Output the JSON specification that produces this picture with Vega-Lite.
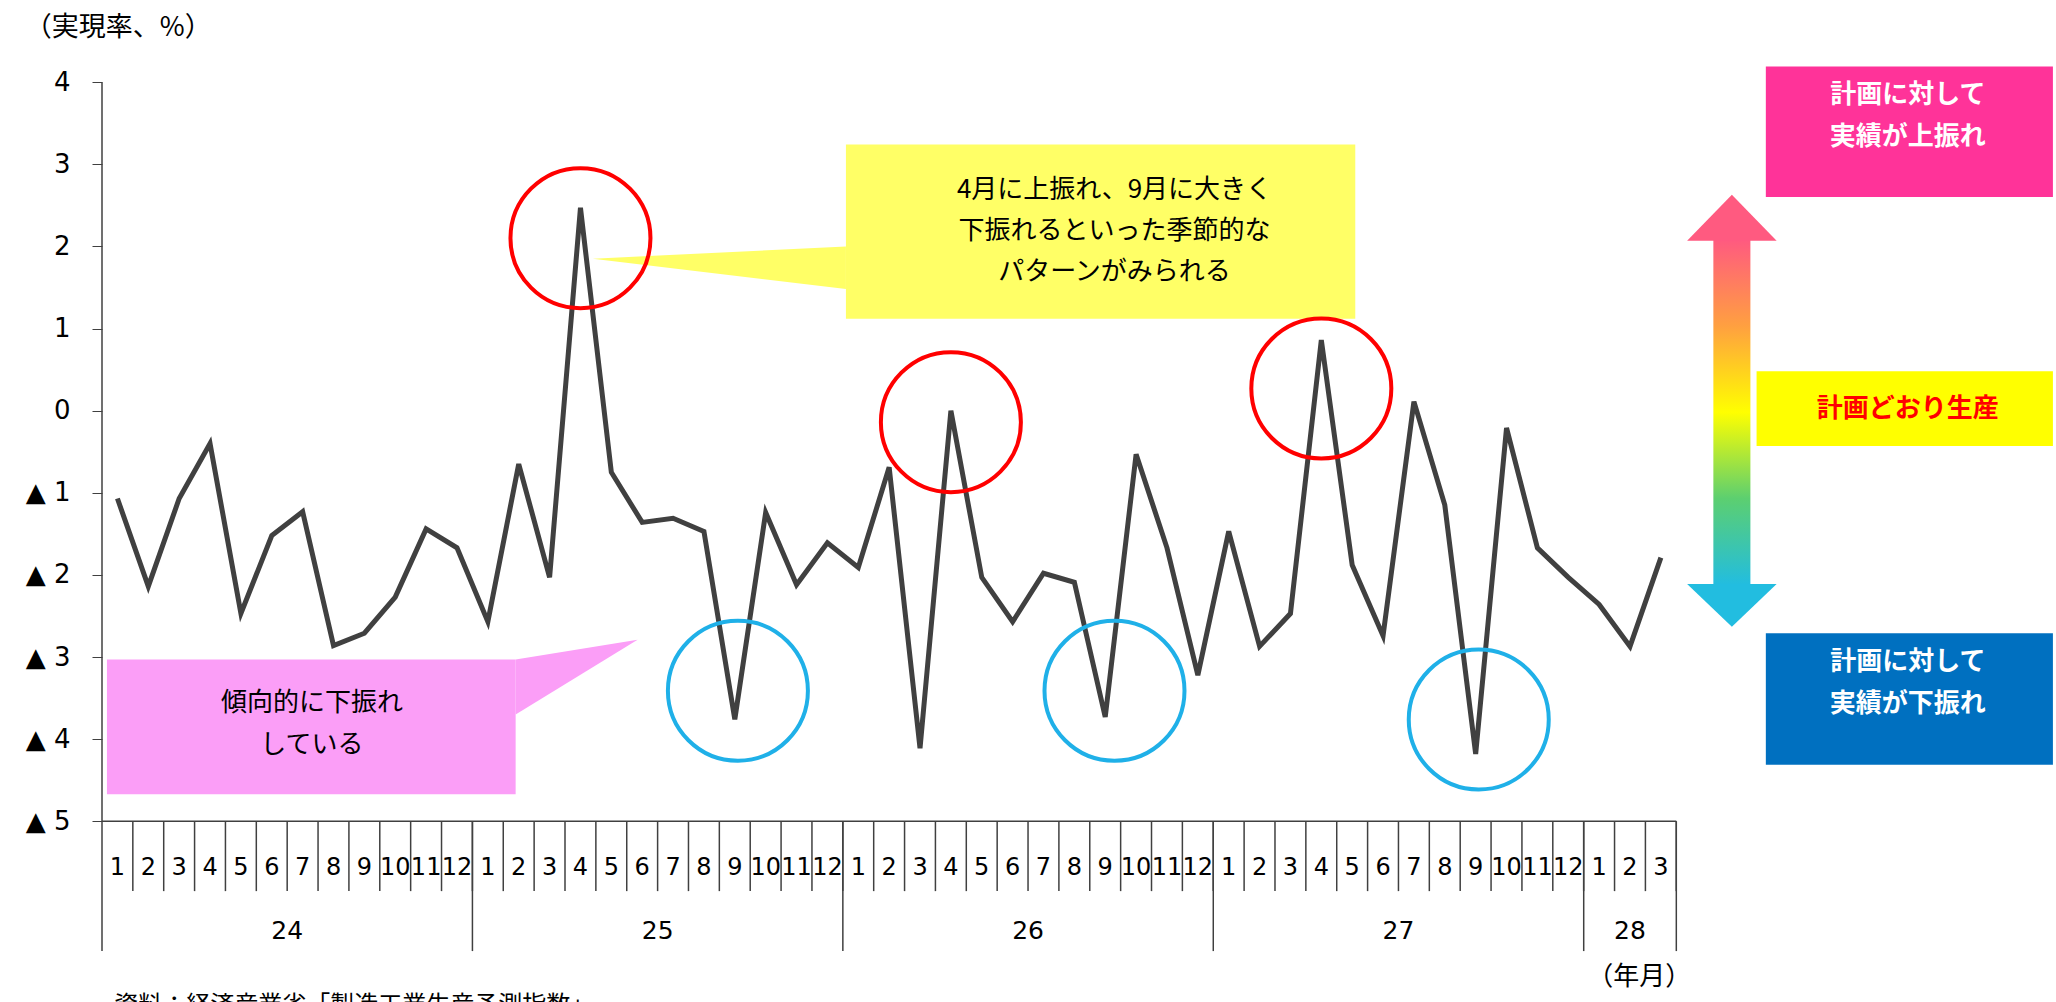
{
"$schema":"https://vega.github.io/schema/vega-lite/v6.json",
"width":1954,"height":1002,"autosize":{"type":"none"},
"padding":{"left":102,"top":0,"right":0,"bottom":0},
"background":"white",
"config":{"view":{"stroke":null},"font":"Noto Sans CJK JP"},
"datasets":{
"s":[
{"i":1,"m":"1","v":-1.07},{"i":2,"m":"2","v":-2.14},{"i":3,"m":"3","v":-1.07},{"i":4,"m":"4","v":-0.4},{"i":5,"m":"5","v":-2.47},{"i":6,"m":"6","v":-1.52},{"i":7,"m":"7","v":-1.23},{"i":8,"m":"8","v":-2.86},{"i":9,"m":"9","v":-2.71},{"i":10,"m":"10","v":-2.27},{"i":11,"m":"11","v":-1.44},{"i":12,"m":"12","v":-1.67},
{"i":13,"m":"1","v":-2.57},{"i":14,"m":"2","v":-0.65},{"i":15,"m":"3","v":-2.03},{"i":16,"m":"4","v":2.47},{"i":17,"m":"5","v":-0.75},{"i":18,"m":"6","v":-1.36},{"i":19,"m":"7","v":-1.31},{"i":20,"m":"8","v":-1.47},{"i":21,"m":"9","v":-3.76},{"i":22,"m":"10","v":-1.24},{"i":23,"m":"11","v":-2.12},{"i":24,"m":"12","v":-1.61},
{"i":25,"m":"1","v":-1.91},{"i":26,"m":"2","v":-0.69},{"i":27,"m":"3","v":-4.11},{"i":28,"m":"4","v":0.0},{"i":29,"m":"5","v":-2.03},{"i":30,"m":"6","v":-2.57},{"i":31,"m":"7","v":-1.98},{"i":32,"m":"8","v":-2.09},{"i":33,"m":"9","v":-3.73},{"i":34,"m":"10","v":-0.53},{"i":35,"m":"11","v":-1.67},{"i":36,"m":"12","v":-3.22},
{"i":37,"m":"1","v":-1.47},{"i":38,"m":"2","v":-2.87},{"i":39,"m":"3","v":-2.47},{"i":40,"m":"4","v":0.86},{"i":41,"m":"5","v":-1.88},{"i":42,"m":"6","v":-2.74},{"i":43,"m":"7","v":0.11},{"i":44,"m":"8","v":-1.15},{"i":45,"m":"9","v":-4.18},{"i":46,"m":"10","v":-0.21},{"i":47,"m":"11","v":-1.67},{"i":48,"m":"12","v":-2.03},
{"i":49,"m":"1","v":-2.36},{"i":50,"m":"2","v":-2.87},{"i":51,"m":"3","v":-1.79}],
"yr":[{"t":"24","c":6.5,"s":0.5},{"t":"25","c":18.5,"s":12.5},{"t":"26","c":30.5,"s":24.5},{"t":"27","c":42.5,"s":36.5},{"t":"28","c":50,"s":48.5},{"t":"","c":0,"s":51.5}],
"circ":[{"x":16,"y":2.1,"c":"r"},{"x":28,"y":-0.14,"c":"r"},{"x":40,"y":0.27,"c":"r"},{"x":21.1,"y":-3.41,"c":"b"},{"x":33.3,"y":-3.41,"c":"b"},{"x":45.1,"y":-3.76,"c":"b"}],
"boxes":[
{"x":24.6,"x2":41.1,"y":3.24,"y2":1.12,"f":"#ffff66"},
{"x":0.66,"x2":13.9,"y":-3.03,"y2":-4.67,"f":"#fb9ef7"},
{"x":54.4,"x2":63.7,"y":4.19,"y2":2.6,"f":"#ff3399"},
{"x":54.1,"x2":63.7,"y":0.48,"y2":-0.43,"f":"#ffff00"},
{"x":54.4,"x2":63.7,"y":-2.71,"y2":-4.31,"f":"#0070c0"}]
},
"layer":[
{"data":{"name":"boxes"},"mark":{"type":"rect"},"encoding":{"x":{"field":"x","type":"quantitative","scale":{"domain":[0.5,63.8],"nice":false,"zero":false},"axis":null},"x2":{"field":"x2"},"y":{"field":"y","type":"quantitative","scale":{"domain":[-7.2,5.0],"nice":false,"zero":false},"axis":{"values":[-5,-4,-3,-2,-1,0,1,2,3,4],"labelExpr":"datum.value<0 ? '▲ '+abs(datum.value) : datum.value","domain":false,"grid":false,"tickSize":10,"tickColor":"#404040","labelFont":"DejaVu Sans","labelFontSize":26,"labelColor":"#000","labelPadding":22,"title":null}},"y2":{"field":"y2"},"color":{"field":"f","type":"nominal","scale":null}}},
{"data":{"values":[{"x":16.4,"y":1.85,"y2":1.85},{"x":24.6,"y":2.0,"y2":1.48}]},"mark":{"type":"area","color":"#ffff66"},"encoding":{"x":{"field":"x","type":"quantitative"},"y":{"field":"y","type":"quantitative"},"y2":{"field":"y2"}}},
{"data":{"values":[{"x":13.9,"y":-3.03,"y2":-3.7},{"x":17.85,"y":-2.79,"y2":-2.79}]},"mark":{"type":"area","color":"#fb9ef7"},"encoding":{"x":{"field":"x","type":"quantitative"},"y":{"field":"y","type":"quantitative"},"y2":{"field":"y2"}}},
{"data":{"values":[{}]},"mark":{"type":"rect","color":{"gradient":"linear","x1":0,"y1":0,"x2":0,"y2":1,"stops":[{"offset":0,"color":"#ff5a80"},{"offset":0.25,"color":"#ffa040"},{"offset":0.5,"color":"#ffff00"},{"offset":0.75,"color":"#5ccf70"},{"offset":1,"color":"#22bde0"}]}},"encoding":{"x":{"datum":52.7},"x2":{"datum":53.9},"y":{"datum":2.08},"y2":{"datum":-2.12}}},
{"data":{"values":[{"x":51.85,"y":2.07,"y2":2.07},{"x":53.3,"y":2.63,"y2":2.07},{"x":54.75,"y":2.07,"y2":2.07}]},"mark":{"type":"area","color":"#ff5a80"},"encoding":{"x":{"field":"x","type":"quantitative"},"y":{"field":"y","type":"quantitative"},"y2":{"field":"y2"}}},
{"data":{"values":[{"x":51.85,"y":-2.11,"y2":-2.11},{"x":53.3,"y":-2.11,"y2":-2.63},{"x":54.75,"y":-2.11,"y2":-2.11}]},"mark":{"type":"area","color":"#22bde0"},"encoding":{"x":{"field":"x","type":"quantitative"},"y":{"field":"y","type":"quantitative"},"y2":{"field":"y2"}}},
{"data":{"values":[{}]},"mark":{"type":"rule","color":"#404040","strokeWidth":1.5},"encoding":{"x":{"datum":0.5},"y":{"datum":-5},"y2":{"datum":4}}},
{"data":{"values":[{}]},"mark":{"type":"rule","color":"#404040","strokeWidth":1.5},"encoding":{"x":{"datum":0.5},"x2":{"datum":51.5},"y":{"datum":-5}}},
{"data":{"name":"s"},"mark":{"type":"rule","color":"#404040","strokeWidth":1.5,"xOffset":15.4},"encoding":{"x":{"field":"i","type":"quantitative"},"y":{"datum":-5},"y2":{"datum":-5.85}}},
{"data":{"name":"yr"},"mark":{"type":"rule","color":"#404040","strokeWidth":1.5},"encoding":{"x":{"field":"s","type":"quantitative"},"y":{"datum":-5},"y2":{"datum":-6.58}}},
{"data":{"name":"s"},"mark":{"type":"text","font":"DejaVu Sans","fontSize":24,"color":"#000"},"encoding":{"x":{"field":"i","type":"quantitative"},"y":{"datum":-5.57},"text":{"field":"m"}}},
{"data":{"name":"yr"},"mark":{"type":"text","font":"DejaVu Sans","fontSize":25,"color":"#000"},"encoding":{"x":{"field":"c","type":"quantitative"},"y":{"datum":-6.34},"text":{"field":"t"}}},
{"data":{"name":"s"},"mark":{"type":"line","color":"#404040","strokeWidth":5},"encoding":{"x":{"field":"i","type":"quantitative"},"y":{"field":"v","type":"quantitative"}}},
{"data":{"name":"circ"},"mark":{"type":"point","filled":false,"size":19600,"strokeWidth":4,"opacity":1},"encoding":{"x":{"field":"x","type":"quantitative"},"y":{"field":"y","type":"quantitative"},"color":{"field":"c","type":"nominal","scale":{"domain":["r","b"],"range":["#ff0000","#1fb0e8"]},"legend":null}}},
{"data":{"values":[{"t":"4月に上振れ、9月に大きく\n下振れるといった季節的な\nパターンがみられる"}]},"mark":{"type":"text","fontSize":26,"lineBreak":"\n","lineHeight":41,"baseline":"top","color":"#000"},"encoding":{"x":{"datum":33.3},"y":{"datum":2.84},"text":{"field":"t"}}},
{"data":{"values":[{"t":"傾向的に下振れ\nしている"}]},"mark":{"type":"text","fontSize":26,"lineBreak":"\n","lineHeight":42,"baseline":"top","color":"#000"},"encoding":{"x":{"datum":7.3},"y":{"datum":-3.4},"text":{"field":"t"}}},
{"data":{"values":[{"t":"計画に対して\n実績が上振れ","y":4.0,"c":"#ffffff"},{"t":"計画に対して\n実績が下振れ","y":-2.9,"c":"#ffffff"}]},"mark":{"type":"text","fontSize":26,"fontWeight":"bold","lineBreak":"\n","lineHeight":42,"baseline":"top"},"encoding":{"x":{"datum":59.0},"y":{"field":"y","type":"quantitative"},"text":{"field":"t"},"color":{"field":"c","type":"nominal","scale":null}}},
{"data":{"values":[{"t":"計画どおり生産"}]},"mark":{"type":"text","fontSize":26,"fontWeight":"bold","baseline":"middle","color":"#ff0000"},"encoding":{"x":{"datum":59.0},"y":{"datum":0.02},"text":{"field":"t"}}},
{"data":{"values":[{"t":"（実現率、%）"}]},"mark":{"type":"text","fontSize":27,"align":"left","baseline":"middle","color":"#000"},"encoding":{"x":{"datum":-2.0},"y":{"datum":4.66},"text":{"field":"t"}}},
{"data":{"values":[{"t":"（年月）"}]},"mark":{"type":"text","fontSize":26,"baseline":"middle","color":"#000"},"encoding":{"x":{"datum":50.3},"y":{"datum":-6.9},"text":{"field":"t"}}},
{"data":{"values":[{"t":"資料：経済産業省「製造工業生産予測指数」"}]},"mark":{"type":"text","fontSize":24,"align":"left","baseline":"top","color":"#000"},"encoding":{"x":{"datum":0.9},"y":{"datum":-7.1},"text":{"field":"t"}}}
]
}
